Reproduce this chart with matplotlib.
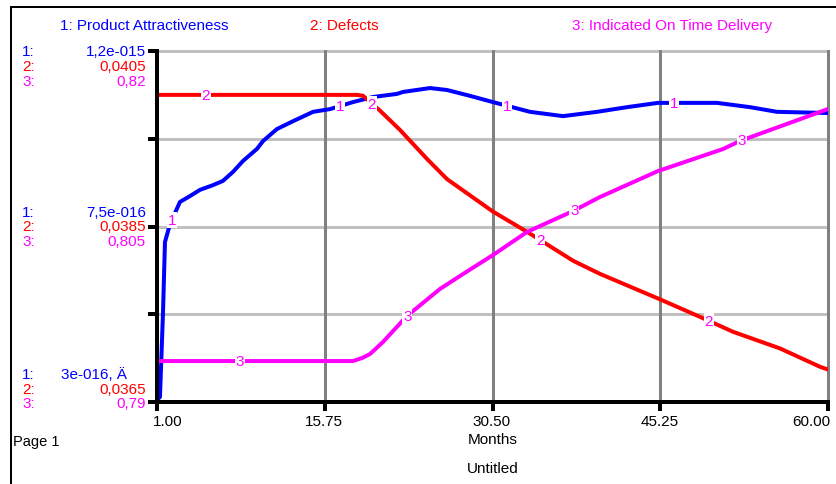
import numpy as np
import matplotlib
matplotlib.use("Agg")
import matplotlib.pyplot as plt
from matplotlib.lines import Line2D

plt.rcParams['font.family'] = ['Liberation Sans', 'DejaVu Sans']

# ---------------- data ----------------
months_x_ticks = [1.00, 15.75, 30.50, 45.25, 60.00]
x_tick_labels = ["1.00", "15.75", "30.50", "45.25", "60.00"]

# 1: Product Attractiveness
months_attr = [1.0, 1.26, 1.53, 1.70, 2.14, 3.02, 3.90, 4.78, 5.92, 6.80, 7.68,
               8.56, 9.79, 10.32, 11.55, 12.96, 14.72, 16.21, 18.23, 19.99,
               22.10, 22.63, 25.00, 26.50, 28.52, 30.54, 33.80, 36.70, 39.69,
               42.33, 45.05, 50.24, 53.14, 55.52, 60.0]
attractiveness = np.array([3.05, 3.13, 5.31, 7.10, 7.56, 8.13, 8.28, 8.44, 8.56,
                           8.67, 8.90, 9.18, 9.49, 9.69, 10.00, 10.20, 10.44,
                           10.51, 10.69, 10.82, 10.90, 10.95, 11.05, 11.00,
                           10.85, 10.69, 10.44, 10.33, 10.44, 10.56, 10.67,
                           10.67, 10.56, 10.44, 10.41]) * 1e-16

# 2: Defects
months_def = [1.0, 18.59, 19.11, 19.55, 20.61, 22.37, 24.74, 26.50, 30.54,
              33.53, 37.58, 39.95, 45.05, 48.75, 51.65, 55.79, 59.32, 60.0]
defects = [0.0400, 0.0400, 0.03999, 0.03994, 0.03982, 0.03960, 0.03927,
           0.03904, 0.03867, 0.03844, 0.03811, 0.03796, 0.03768, 0.03747,
           0.03730, 0.03711, 0.03690, 0.03687]

# 3: Indicated On Time Delivery
months_otd = [1.0, 18.23, 19.03, 19.73, 20.87, 22.98, 25.88, 27.91, 30.54,
              33.53, 34.68, 37.58, 39.95, 45.05, 50.77, 52.26, 60.0]
on_time = [0.7935, 0.7935, 0.79376, 0.7941, 0.79513, 0.79735, 0.79966,
           0.80094, 0.80256, 0.80453, 0.80504, 0.80632, 0.80752, 0.80974,
           0.81162, 0.81231, 0.81504]

# axis scales (min, max) and their printed labels (bottom, middle, top)
range_attr = (3e-16, 1.2e-15)
range_def = (0.0365, 0.0405)
range_otd = (0.79, 0.82)
scale_attr = ["3e-016, Ä", "7,5e-016", "1,2e-015"]
scale_def = ["0,0365", "0,0385", "0,0405"]
scale_otd = ["0,79", "0,805", "0,82"]

# months where the series numbers sit on the curves
label_months_attr = [2.3, 17.1, 31.8, 46.5]
label_months_def = [5.3, 19.9, 34.7, 49.5]
label_months_otd = [8.3, 23.0, 37.7, 52.4]

titles = ["1: Product Attractiveness", "2: Defects", "3: Indicated On Time Delivery"]

BLUE, RED, MAGENTA = "#0000ff", "#ff0000", "#ff00ff"
FS = 11

# ---------------- figure ----------------
W, H = 836, 485
fig = plt.figure(figsize=(W / 100, H / 100), dpi=100)
L, R, T, B = 157, 828, 52, 403
rect = [L / W, 1 - B / H, (R - L) / W, (B - T) / H]

ax1 = fig.add_axes(rect)
ax2 = ax1.twinx()
ax3 = ax1.twinx()
for a in (ax1, ax2, ax3):
    a.set_xlim(1, 60)
    a.patch.set_visible(False)
    for s in a.spines.values():
        s.set_visible(False)
    a.tick_params(left=False, right=False, bottom=False, top=False,
                  labelleft=False, labelright=False, labelbottom=False)
ax1.set_ylim(*range_attr)
ax2.set_ylim(*range_def)
ax3.set_ylim(*range_otd)

px = 0.72  # points per pixel
grid_y = np.linspace(range_attr[0], range_attr[1], 5)
for gy in grid_y:
    ax1.axhline(gy, color="#c0c0c0", lw=3 * px, zorder=0.5, clip_on=False)
for gx in months_x_ticks:
    ax1.axvline(gx, color="#808080", lw=3 * px, zorder=0.6, clip_on=False)

lw = 4 * px
ax1.plot(months_attr, attractiveness, color=BLUE, lw=lw, zorder=2)
ax2.plot(months_def, defects, color=RED, lw=lw, zorder=2)
ax3.plot(months_otd, on_time, color=MAGENTA, lw=lw, zorder=2)

# series numbers on the curves
for a, mx, my, lm, num in ((ax1, months_attr, attractiveness, label_months_attr, "1"),
                           (ax2, months_def, defects, label_months_def, "2"),
                           (ax3, months_otd, on_time, label_months_otd, "3")):
    for m in lm:
        a.text(m, np.interp(m, mx, my), num, color=MAGENTA, fontsize=FS,
               ha="center", va="center", zorder=5,
               bbox=dict(facecolor="white", edgecolor="none", pad=0.6))

# axis lines and ticks on the top-most axes
ax3.xaxis.set_visible(True)
ax3.spines["left"].set_visible(True)
ax3.spines["bottom"].set_visible(True)
for s in ("left", "bottom"):
    ax3.spines[s].set_linewidth(4 * px)
    ax3.spines[s].set_color("black")
    ax3.spines[s].set_zorder(6)
ax3.yaxis.set_ticks_position("left")
ax3.set_yticks(np.linspace(range_otd[0], range_otd[1], 5))
ax3.set_xticks(months_x_ticks)
ax3.tick_params(axis="y", left=True, right=False, labelleft=False,
                length=9 * px, width=4 * px, direction="out")
ax3.tick_params(axis="x", bottom=True, labelbottom=False,
                length=9 * px, width=4 * px, direction="out")

# x tick labels
for i, (m, lab) in enumerate(zip(months_x_ticks, x_tick_labels)):
    if i == 0:
        ha, dx = "left", -4
    elif i == len(months_x_ticks) - 1:
        ha, dx = "right", 2
    else:
        ha, dx = "center", -1
    ax3.annotate(lab, xy=(m, 0), xycoords=("data", "axes fraction"),
                 xytext=(dx, -19), textcoords="offset pixels",
                 ha=ha, va="center", fontsize=FS, color="black",
                 annotation_clip=False)

# left scale labels, three rows per gridline
row_offsets = {0: [28, 13, -1], 1: [14, 0, -15], 2: [0, -15, -30]}
scales = [(scale_attr, BLUE), (scale_def, RED), (scale_otd, MAGENTA)]
for level, yfrac in ((0, 0.0), (1, 0.5), (2, 1.0)):
    for k, (sc, col) in enumerate(scales):
        dy = row_offsets[level][k]
        ax3.annotate(f"{k + 1}:", xy=(0, yfrac), xycoords="axes fraction",
                     xytext=(22 - L, dy), textcoords="offset pixels",
                     ha="left", va="center", fontsize=FS, color=col,
                     annotation_clip=False)
        dx = 127 - L if (level == 0 and k == 0) else 146 - L
        ax3.annotate(sc[level], xy=(0, yfrac), xycoords="axes fraction",
                     xytext=(dx, dy), textcoords="offset pixels",
                     ha="right", va="center", fontsize=FS, color=col,
                     annotation_clip=False)

# header titles
for (txt, col, x) in zip(titles, (BLUE, RED, MAGENTA), (60, 310, 572)):
    fig.text(x / W, 1 - 26 / H, txt, color=col, fontsize=FS, ha="left", va="center")

fig.text(493 / W, 1 - 440 / H, "Months", fontsize=FS, ha="center", va="center")
fig.text(493 / W, 1 - 469 / H, "Untitled", fontsize=FS, ha="center", va="center")
fig.text(13 / W, 1 - 442 / H, "Page 1", fontsize=10.5, ha="left", va="center")

# page frame
fig.add_artist(Line2D([11 / W, 11 / W], [0, 1 - 8 / H], transform=fig.transFigure,
                      color="black", lw=2 * px))
fig.add_artist(Line2D([11 / W, 1], [1 - 8 / H, 1 - 8 / H], transform=fig.transFigure,
                      color="black", lw=2 * px))

fig.savefig("out.png", dpi=100)
